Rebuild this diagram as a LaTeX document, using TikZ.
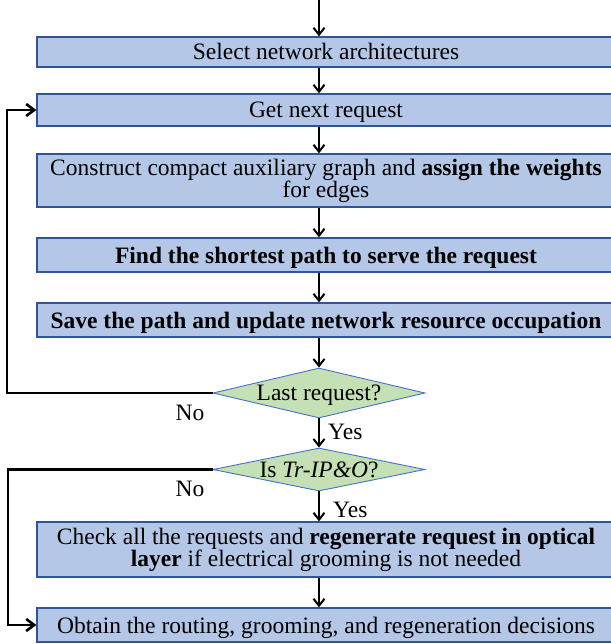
\documentclass[tikz,border=0pt]{standalone}
\usepackage{fontspec}
\setmainfont{Liberation Serif}
\usetikzlibrary{arrows.meta,shapes.geometric}
\definecolor{boxfill}{HTML}{B4C7E7}
\definecolor{boxline}{HTML}{2F5597}
\definecolor{diafill}{HTML}{C5E0B4}
\definecolor{dialine}{HTML}{4472C4}
\lineskiplimit=-100pt
\begin{document}
\begin{tikzpicture}[x=1pt,y=-1pt,
  every node/.style={font=\fontsize{23.5}{22}\selectfont},
  procbox/.style={rectangle, draw=boxline, line width=1.3pt, fill=boxfill, minimum width=578pt, inner sep=0pt, align=center},
  oneline/.style={text height=18pt, text depth=2pt},
  decision/.style={diamond, draw=dialine, line width=0.9pt, fill=diafill, inner sep=0pt, minimum width=212pt},
  flow/.style={line width=2pt, -{Straight Barb[length=7pt,width=11pt]}},
  loopline/.style={line width=2.6pt, -{Straight Barb[length=8pt,width=12pt]}},
  lbl/.style={inner sep=0pt}
]
\useasboundingbox (0,0) rectangle (610,644);
\coordinate (top) at (319,0);
\coordinate (l1) at (7,0);
\coordinate (l2) at (8,0);

\node[procbox, oneline, minimum height=30pt] (b1) at (326,52) {Select network architectures};
\node[procbox, oneline, minimum height=32pt] (b2) at (326,110) {Get next request};
\node[procbox, minimum height=53pt] (b3) at (326,180.5) {Construct compact auxiliary graph and \textbf{assign the weights}\\for edges};
\node[procbox, oneline, minimum height=34pt] (b4) at (326,255) {\textbf{Find the shortest path to serve the request}};
\node[procbox, oneline, minimum height=34pt] (b5) at (326,320) {\textbf{Save the path and update network resource occupation}};
\node[decision, minimum height=50pt] (d1) at (319,393) {\makebox[0pt]{\raisebox{-7pt}[0pt][0pt]{Last request?}}};
\node[decision, minimum height=43pt] (d2) at (319,469.5) {\makebox[0pt]{\raisebox{-7.5pt}[0pt][0pt]{Is \textit{Tr-IP\&O}?}}};
\node[procbox, minimum height=55pt] (b6) at (326,549.5) {Check all the requests and \textbf{regenerate request in optical}\\\textbf{layer} if electrical grooming is not needed};
\node[procbox, oneline, minimum height=34pt] (b7) at (326,625) {Obtain the routing, grooming, and regeneration decisions};

\draw[flow] (top) -- (b1.north -| top);
\draw[flow] (b1.south -| top) -- (b2.north -| top);
\draw[flow] (b2.south -| top) -- (b3.north -| top);
\draw[flow] (b3.south -| top) -- (b4.north -| top);
\draw[flow] (b4.south -| top) -- (b5.north -| top);
\draw[flow] (b5.south -| top) -- (d1.north);
\draw[flow] (d1.south) -- (d2.north);
\draw[flow] (d2.south) -- (b6.north -| top);
\draw[flow] (b6.south -| top) -- (b7.north -| top);

\draw[loopline] (d1.west) -- (d1.west -| l1) |- (b2.west);
\draw[loopline] (d2.west) -- (d2.west -| l2) |- (b7.west);

\node[lbl] (no1) at (190,413) {No};
\node[lbl, anchor=west] (yes1) at (328,432) {Yes};
\node[lbl] (no2) at (190,489) {No};
\node[lbl, anchor=west] (yes2) at (333,510) {Yes};
\end{tikzpicture}
\end{document}
